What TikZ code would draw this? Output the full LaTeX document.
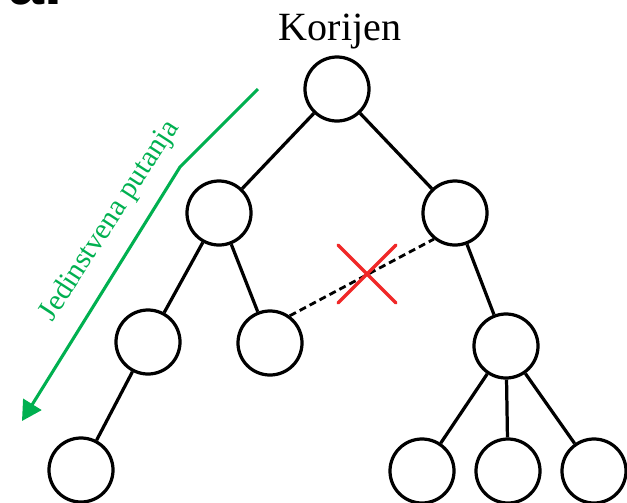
\documentclass[tikz,border=0pt]{standalone}
\usepackage{fontspec}
\setmainfont{Liberation Serif}
\newfontfamily\panelfont{Liberation Sans}
\usetikzlibrary{arrows.meta}

\definecolor{pathgreen}{RGB}{0,176,80}
\definecolor{cutred}{RGB}{240,40,40}

\begin{document}
\begin{tikzpicture}[x=0.025cm, y=-0.025cm,
    vertex/.style={draw, circle, line width=2.3pt, minimum size=1.6cm, inner sep=0pt},
    edge/.style={line width=2.3pt}]
    \useasboundingbox (0,0) rectangle (627,502);
    \clip (0,0) rectangle (627,502);

    \node [anchor=base west, inner sep=0pt,
	font=\panelfont\bfseries\fontsize{46}{46}\selectfont] (panel) at (8,4) {a.};
    \node [anchor=base, font=\fontsize{28.5}{28.5}\selectfont] (title) at (340,40) {Korijen};

    % tree
    \node [vertex] (root) at (337,89) {};
    \node [vertex] (l) at (219,213) {};
    \node [vertex] (r) at (455,213) {};
    \node [vertex] (ll) at (148,342) {};
    \node [vertex] (lr) at (270,343) {};
    \node [vertex] (rr) at (506,346) {};
    \node [vertex] (lll) at (81,470) {};
    \node [vertex] (rra) at (422,471) {};
    \node [vertex] (rrb) at (508,471) {};
    \node [vertex] (rrc) at (594,471) {};

    \draw [edge] (root) -- (l);
    \draw [edge] (root) -- (r);
    \draw [edge] (l) -- (ll);
    \draw [edge] (l) -- (lr);
    \draw [edge] (ll) -- (lll);
    \draw [edge] (r) -- (rr);
    \draw [edge] (rr) -- (rra);
    \draw [edge] (rr) -- (rrb);
    \draw [edge] (rr) -- (rrc);

    % forbidden link
    \draw [line width=2pt, dash pattern=on 5pt off 3pt] (lr.54) -- (r.231);
    \draw [cutred, line width=2.4pt, line cap=round]
	(338,245) -- (396,303) (396,245) -- (338,303);

    % path from the root
    \draw [pathgreen, line width=2.2pt, -{Triangle[length=14pt, width=15pt]}]
	(258,89) -- (180,167) -- (22,421);
    \node [pathgreen, rotate=57, font=\fontsize{21}{21}\selectfont] (pathlabel)
	at (110,221) {Jedinstvena putanja};
\end{tikzpicture}
\end{document}
